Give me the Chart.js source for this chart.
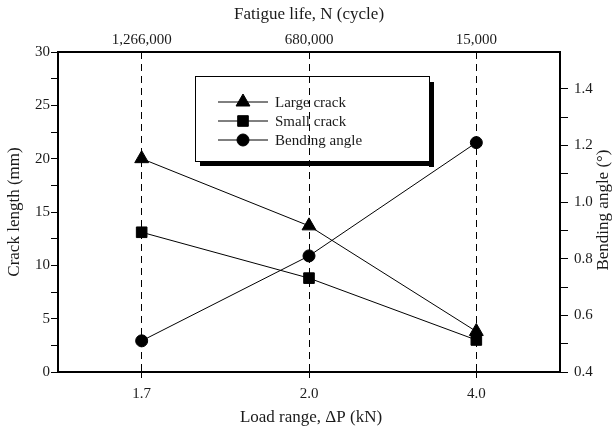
<!DOCTYPE html>
<html>
<head>
<meta charset="utf-8" />
<title>Crack length and bending angle vs load range</title>
<script src="https://cdn.jsdelivr.net/npm/chart.js"></script>
<style>
  html, body { margin: 0; background: white; }
  #wrap { width: 614px; height: 432px; }
</style>
</head>
<body>
<div id="wrap"><canvas id="chart" width="614" height="432"></canvas></div>
<script>
// data
const loadRange = ['1.7', '2.0', '4.0'];
const fatigueLife = ['1,266,000', '680,000', '15,000'];
const seriesNames = ['Large crack', 'Small crack', 'Bending angle'];
const largeCrack = [20.0, 13.7, 3.8];
const smallCrack = [13.1, 8.8, 3.0];
const bendingAngle = [0.51, 0.81, 1.21];
const crackTicks = [0, 2.5, 5, 7.5, 10, 12.5, 15, 17.5, 20, 22.5, 25, 27.5, 30];
const angleTicks = [0.4, 0.5, 0.6, 0.7, 0.8, 0.9, 1.0, 1.1, 1.2, 1.3, 1.4];

const serif = "'Liberation Serif', 'DejaVu Serif', serif";
const ink = '#1a1a1a';

// legend box with heavy drop shadow + axis titles
const decorations = {
    id: 'decorations',
    afterDraw(chart) {
        const ctx = chart.ctx;
        const area = chart.chartArea;
        ctx.save();

        // legend box
        const bx = 195, by = 76, bw = 234, bh = 85;
        ctx.fillStyle = '#000';
        ctx.fillRect(bx + bw, by + 6, 5, bh);
        ctx.fillRect(bx + 5, by + bh, bw, 5);
        ctx.strokeStyle = '#000';
        ctx.lineWidth = 1;
        ctx.strokeRect(bx + 0.5, by + 0.5, bw, bh);

        chart.data.datasets.forEach((ds, i) => {
            const y = by + 26 + i * 19;
            ctx.beginPath();
            ctx.moveTo(bx + 23, y);
            ctx.lineTo(bx + 73, y);
            ctx.strokeStyle = '#000';
            ctx.lineWidth = 1;
            ctx.stroke();
            ctx.fillStyle = '#000';
            Chart.helpers.drawPoint(ctx, {
                pointStyle: ds.pointStyle,
                radius: ds.pointRadius,
                rotation: 0,
                borderWidth: 1
            }, bx + 48, y);
            ctx.fillStyle = ink;
            ctx.font = '15px ' + serif;
            ctx.textAlign = 'left';
            ctx.textBaseline = 'middle';
            ctx.fillText(ds.label, bx + 80, y + 1);
        });

        // axis titles
        ctx.fillStyle = ink;
        ctx.font = '17px ' + serif;
        ctx.textAlign = 'center';
        ctx.textBaseline = 'middle';
        const cx = (area.left + area.right) / 2;
        const cy = (area.top + area.bottom) / 2;
        ctx.fillText('Fatigue life, N (cycle)', cx, 15);
        ctx.fillText('Load range, \u0394P (kN)', cx + 2, 418);

        ctx.save();
        ctx.translate(15, cy);
        ctx.rotate(-Math.PI / 2);
        ctx.fillText('Crack length (mm)', 0, 0);
        ctx.restore();

        ctx.save();
        ctx.translate(604, cy - 2);
        ctx.rotate(-Math.PI / 2);
        ctx.fillText('Bending angle (\u00b0)', 0, 0);
        ctx.restore();

        ctx.restore();
    }
};

const tickFont = { family: serif, size: 15 };

new Chart(document.getElementById('chart'), {
    type: 'line',
    data: {
        labels: loadRange,
        datasets: [
            {
                label: seriesNames[0],
                data: largeCrack,
                yAxisID: 'y',
                borderColor: '#000',
                backgroundColor: '#000',
                borderWidth: 1,
                pointStyle: 'triangle',
                pointRadius: 8,
                pointBackgroundColor: '#000'
            },
            {
                label: seriesNames[1],
                data: smallCrack,
                yAxisID: 'y',
                borderColor: '#000',
                backgroundColor: '#000',
                borderWidth: 1,
                pointStyle: 'rect',
                pointRadius: 7.5,
                pointBackgroundColor: '#000'
            },
            {
                label: seriesNames[2],
                data: bendingAngle,
                yAxisID: 'y2',
                borderColor: '#000',
                backgroundColor: '#000',
                borderWidth: 1,
                pointStyle: 'circle',
                pointRadius: 6,
                pointBackgroundColor: '#000'
            }
        ]
    },
    options: {
        responsive: false,
        animation: false,
        layout: { padding: 0 },
        plugins: {
            legend: { display: false },
            tooltip: { enabled: false }
        },
        scales: {
            x: {
                type: 'category',
                position: 'bottom',
                offset: true,
                grid: {
                    display: true,
                    drawOnChartArea: true,
                    drawTicks: true,
                    tickLength: 6,
                    color: '#000',
                    lineWidth: 1
                },
                border: { display: true, color: '#000', width: 2, dash: [7, 5] },
                ticks: { color: ink, font: tickFont, padding: 7, maxRotation: 0 },
                afterFit: s => { s.height = 60; }
            },
            x2: {
                type: 'category',
                position: 'top',
                labels: fatigueLife,
                offset: true,
                grid: { drawOnChartArea: false, drawTicks: false },
                border: { display: true, color: '#000', width: 2 },
                ticks: { color: ink, font: tickFont, padding: 3, maxRotation: 0 },
                afterFit: s => { s.height = 52; }
            },
            y: {
                type: 'linear',
                position: 'left',
                min: 0,
                max: 30,
                afterBuildTicks: s => { s.ticks = crackTicks.map(v => ({ value: v })); },
                grid: { drawOnChartArea: false, tickLength: 7, color: '#000' },
                border: { display: true, color: '#000', width: 2 },
                ticks: {
                    color: ink,
                    font: tickFont,
                    padding: 1,
                    callback: v => (v % 5 === 0 ? String(v) : '')
                },
                afterFit: s => { s.width = 58; }
            },
            y2: {
                type: 'linear',
                position: 'right',
                min: 0.4,
                max: 1.53,
                afterBuildTicks: s => { s.ticks = angleTicks.map(v => ({ value: v })); },
                grid: { drawOnChartArea: false, tickLength: 8, color: '#000' },
                border: { display: true, color: '#000', width: 2 },
                ticks: {
                    color: ink,
                    font: tickFont,
                    padding: 6,
                    callback: v => (Math.round(v * 10) % 2 === 0 ? v.toFixed(1) : '')
                },
                afterFit: s => { s.width = 54; }
            }
        }
    },
    plugins: [decorations]
});
</script>
</body>
</html>
